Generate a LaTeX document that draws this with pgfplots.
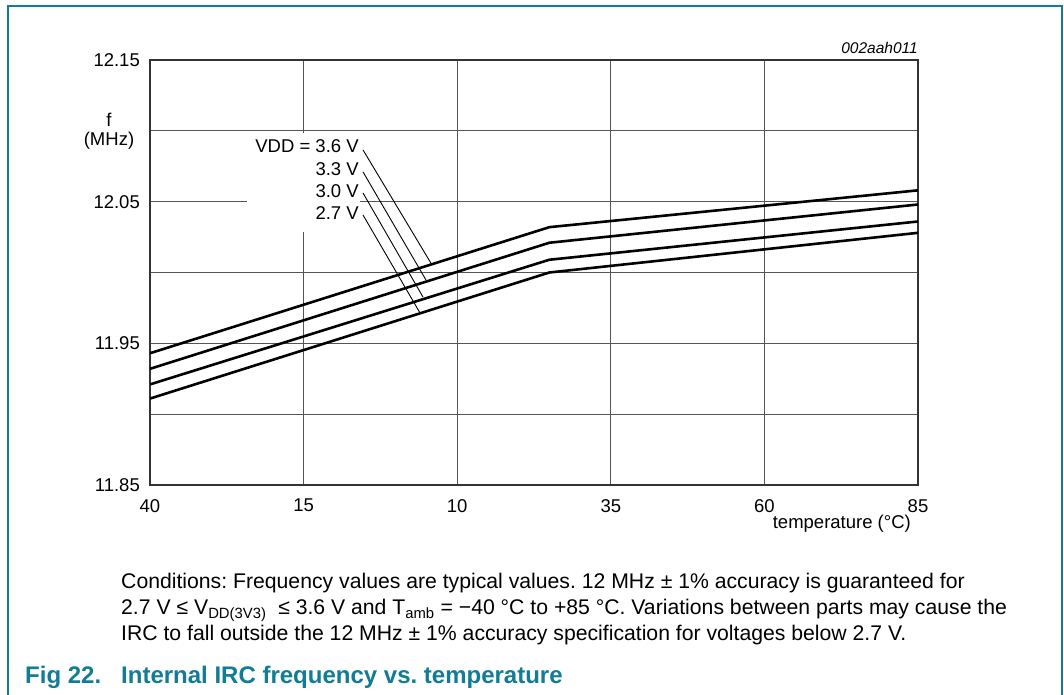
\documentclass[border=0pt]{standalone}
\usepackage{fontspec}
\setmainfont{Liberation Sans}
\usepackage{pgfplots}
\pgfplotsset{compat=1.18}
\definecolor{nxpteal}{RGB}{18,124,150}
\definecolor{gridgray}{RGB}{85,85,85}
\newcommand{\axfont}{\fontsize{18.5bp}{22bp}\selectfont}
\frenchspacing
\begin{document}
\begin{tikzpicture}[x=1bp,y=1bp]
\useasboundingbox (0,0) rectangle (1064,695);
% outer frame
\draw[nxpteal, line width=1.6bp] (8,0) -- (8,689) -- (1062,689) -- (1062,0);
\begin{axis}[
  at={(150bp,210bp)}, anchor=south west,
  width=768bp, height=425bp, scale only axis,
  xmin=-40, xmax=85, ymin=11.85, ymax=12.15,
  xtick={-40,-15,10,35,60,85},
  xticklabels={40,15,10,35,60,85},
  ytick={11.85,11.95,12.05,12.15},
  minor ytick={11.90,12.00,12.10},
  yticklabel style={/pgf/number format/fixed, /pgf/number format/fixed zerofill, /pgf/number format/precision=2},
  /pgf/number format/assume math mode=true,
  grid=both,
  major grid style={gridgray, line width=1.2bp},
  minor grid style={gridgray, line width=1.2bp},
  major tick length=0pt, minor tick length=0pt,
  axis line style={black!80, line width=1.3bp},
  ticklabel style={font=\axfont, inner sep=0pt},
  xticklabel style={anchor=north, yshift=-14bp},
  yticklabel style={anchor=east, xshift=-10bp},
  clip=false,
]
% white box behind the VDD labels
\fill[white] (axis cs:-24.2,12.0985) rectangle (axis cs:-5.8,12.0286);
\node[anchor=east, inner sep=0pt, font=\axfont] at (axis cs:-6.0,12.0889) {VDD = 3.6 V};
\node[anchor=east, inner sep=0pt, font=\axfont] at (axis cs:-6.0,12.0731) {3.3 V};
\node[anchor=east, inner sep=0pt, font=\axfont] at (axis cs:-6.0,12.0575) {3.0 V};
\node[anchor=east, inner sep=0pt, font=\axfont] at (axis cs:-6.0,12.0420) {2.7 V};
\draw[black, line width=0.9bp] (axis cs:-5.33,12.0865) -- (axis cs:5.9,12.0053);
\draw[black, line width=0.9bp] (axis cs:-5.33,12.0710) -- (axis cs:4.92,11.9947);
\draw[black, line width=0.9bp] (axis cs:-5.33,12.0561) -- (axis cs:4.43,11.9827);
\draw[black, line width=0.9bp] (axis cs:-5.33,12.0406) -- (axis cs:3.95,11.9714);
% curves
\addplot[black, line width=2.6bp] coordinates {(-40,11.943) (25,12.032) (85,12.058)};
\addplot[black, line width=2.6bp] coordinates {(-40,11.932) (25,12.021) (85,12.048)};
\addplot[black, line width=2.6bp] coordinates {(-40,11.921) (25,12.009) (85,12.036)};
\addplot[black, line width=2.6bp] coordinates {(-40,11.911) (25,12.000) (85,12.028)};
\end{axis}
% axis labels
\node[font=\axfont, inner sep=0pt] at (109,575) {f};
\node[font=\axfont, inner sep=0pt] at (109,554) {(MHz)};
\node[font=\axfont, inner sep=0pt, anchor=east] at (911,171) {temperature (\textdegree C)};
\node[font=\fontsize{15.5bp}{18bp}\selectfont\itshape, inner sep=0pt, anchor=east] at (918,647) {002aah011};
% conditions
\begin{scope}[every node/.style={anchor=base west, inner sep=0pt, font=\fontsize{21.2bp}{25bp}\selectfont}]
\node at (121,106) {Conditions: Frequency values are typical values. 12 MHz ± 1\% accuracy is guaranteed for};
\node at (121,80.5) {2.7 V ≤ V\textsubscript{DD(3V3)} \ ≤ 3.6 V and T\textsubscript{amb} = −40 °C to +85 °C. Variations between parts may cause the};
\node at (121,54) {IRC to fall outside the 12 MHz ± 1\% accuracy specification for voltages below 2.7 V.};
\end{scope}
\node[anchor=base west, inner sep=0pt, font=\fontsize{24bp}{28bp}\selectfont\bfseries, text=nxpteal] at (25,11) {Fig 22.};
\node[anchor=base west, inner sep=0pt, font=\fontsize{24bp}{28bp}\selectfont\bfseries, text=nxpteal] at (121,11) {Internal IRC frequency vs. temperature};
\end{tikzpicture}
\end{document}
